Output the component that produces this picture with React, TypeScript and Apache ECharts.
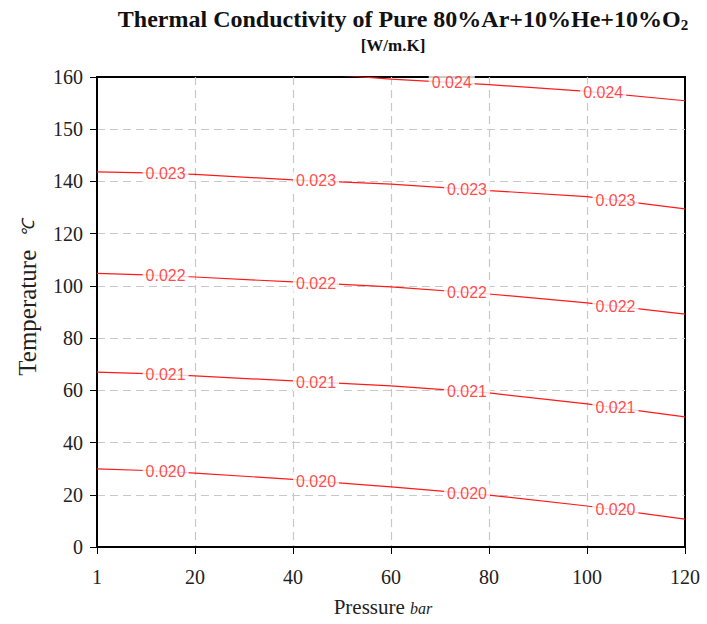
import React, { useEffect, useRef } from "react";
import * as echarts from "echarts";

// Pressure positions along the x axis (axis origin is labelled "1" bar)
const pressures = [0, 10, 20, 40, 60, 80, 100, 120];
const xTickLabels: Record<number, string> = { 0: "1", 20: "20", 40: "40", 60: "60", 80: "80", 100: "100", 120: "120" };
// Y tick labels as printed on the reference axis (evenly spaced ticks)
const yTickLabels = ["0", "20", "40", "60", "80", "100", "120", "140", "150", "160"];

// Contour temperatures (on the evenly-spaced axis scale) for each conductivity level
const c020 = [29.9, 29.3, 28.3, 25.9, 23.0, 19.9, 15.7, 10.7];
const c021 = [67.0, 66.4, 65.5, 63.6, 61.7, 59.0, 54.8, 49.8];
const c022 = [104.8, 104.2, 103.4, 101.5, 99.6, 96.9, 93.5, 89.2];
const c023 = [143.7, 143.3, 142.7, 140.6, 139.0, 136.5, 134.2, 129.5];
const pressures024 = [50, 60, 80, 100, 120];
const c024 = [180.6, 179.2, 177.1, 174.5, 170.9];

const levels = ["0.020", "0.021", "0.022", "0.023", "0.024"];
const labelPressures = [14, 44.7, 75.5, 105.8];
const labelPressures024 = [72.4, 103.3];

const RED = "#ff1a1a";

function interp(xs: number[], ys: number[], x: number) {
  for (let i = 0; i < xs.length - 1; i++) {
    if (x >= xs[i] && x <= xs[i + 1]) {
      const t = (x - xs[i]) / (xs[i + 1] - xs[i]);
      return ys[i] + t * (ys[i + 1] - ys[i]);
    }
  }
  return ys[ys.length - 1];
}

export default function App() {
  const ref = useRef<HTMLDivElement>(null);
  useEffect(() => {
    if (!ref.current) return;
    const chart = echarts.init(ref.current, null, { renderer: "svg" });
    const lines = [
      { name: levels[0], xs: pressures, ys: c020, lp: labelPressures },
      { name: levels[1], xs: pressures, ys: c021, lp: labelPressures },
      { name: levels[2], xs: pressures, ys: c022, lp: labelPressures },
      { name: levels[3], xs: pressures, ys: c023, lp: labelPressures },
      { name: levels[4], xs: pressures024, ys: c024, lp: labelPressures024 },
    ];
    const series: any[] = [];
    lines.forEach((l) => {
      series.push({
        type: "line",
        name: l.name,
        data: l.xs.map((x, i) => [x, l.ys[i]]),
        showSymbol: false,
        symbol: "none",
        clip: true,
        lineStyle: { color: RED, width: 1.2 },
        z: 3,
      });
      series.push({
        type: "scatter",
        name: l.name + "-labels",
        data: l.lp.map((x) => [x, interp(l.xs, l.ys, x)]),
        symbolSize: 1,
        itemStyle: { color: "rgba(0,0,0,0)" },
        z: 5,
        label: {
          show: true,
          position: "inside",
          formatter: l.name,
          color: RED,
          fontFamily: "Liberation Sans",
          fontSize: 16,
          backgroundColor: "#ffffff",
          padding: [1, 3],
        },
        labelLayout: { hideOverlap: false },
      });
    });

    const serif = "Liberation Serif";
    const split = { show: true, showMinLine: false, showMaxLine: false, lineStyle: { color: "#c8c8c8", type: [8, 5], width: 1.2 } };
    chart.setOption({
      animation: false,
      grid: { left: 97, right: 22, top: 77, bottom: 77, show: true, borderColor: "#000", borderWidth: 2, backgroundColor: "transparent" },
      xAxis: {
        type: "value",
        min: 0,
        max: 120,
        interval: 20,
        axisLine: { show: true, lineStyle: { color: "#000", width: 2 } },
        axisTick: { show: true, length: 7, lineStyle: { color: "#000", width: 1 } },
        axisLabel: {
          formatter: (v: number) => xTickLabels[v] ?? String(v),
          fontFamily: serif,
          fontSize: 20,
          color: "#222",
          margin: 20,
        },
        splitLine: split,
      },
      yAxis: {
        type: "value",
        min: 0,
        max: 180,
        interval: 20,
        axisLine: { show: true, lineStyle: { color: "#000", width: 2 } },
        axisTick: { show: true, length: 7, lineStyle: { color: "#000", width: 1 } },
        axisLabel: {
          formatter: (v: number) => yTickLabels[Math.round(v / 20)] ?? String(v),
          fontFamily: serif,
          fontSize: 20,
          color: "#222",
          margin: 14,
        },
        splitLine: split,
      },
      graphic: [
        {
          type: "text",
          x: 403,
          y: 19,
          style: {
            text: "Thermal Conductivity of Pure 80%Ar+10%He+10%O{s|2}",
            fontFamily: serif,
            fontWeight: "bold",
            fontSize: 24,
            fill: "#111",
            align: "center",
            verticalAlign: "middle",
            rich: {
              s: { fontFamily: serif, fontWeight: "bold", fontSize: 15, padding: [12, 0, 0, 0], fill: "#111" },
            },
          },
        },
        {
          type: "text",
          x: 393,
          y: 45,
          style: {
            text: "[W/m.K]",
            fontFamily: serif,
            fontWeight: "bold",
            fontSize: 17,
            fill: "#111",
            align: "center",
            verticalAlign: "middle",
          },
        },
        {
          type: "text",
          x: 383,
          y: 607,
          style: {
            text: "Pressure {u|bar}",
            fontFamily: serif,
            fontSize: 21,
            fill: "#222",
            align: "center",
            verticalAlign: "middle",
            rich: { u: { fontFamily: serif, fontStyle: "italic", fontSize: 16, fill: "#222", padding: [3, 0, 0, 0] } },
          },
        },
        {
          type: "text",
          x: 27,
          y: 298,
          rotation: Math.PI / 2,
          style: {
            text: "Temperature  {u|℃}",
            fontFamily: serif,
            fontSize: 25,
            fill: "#222",
            align: "center",
            verticalAlign: "middle",
            rich: { u: { fontFamily: serif, fontStyle: "italic", fontSize: 17, fill: "#222", padding: [3, 0, 0, 0] } },
          },
        },
      ],
      series,
    });
    return () => chart.dispose();
  }, []);
  return <div ref={ref} style={{ position: "absolute", left: 0, top: 0, width: 707, height: 624 }} />;
}
